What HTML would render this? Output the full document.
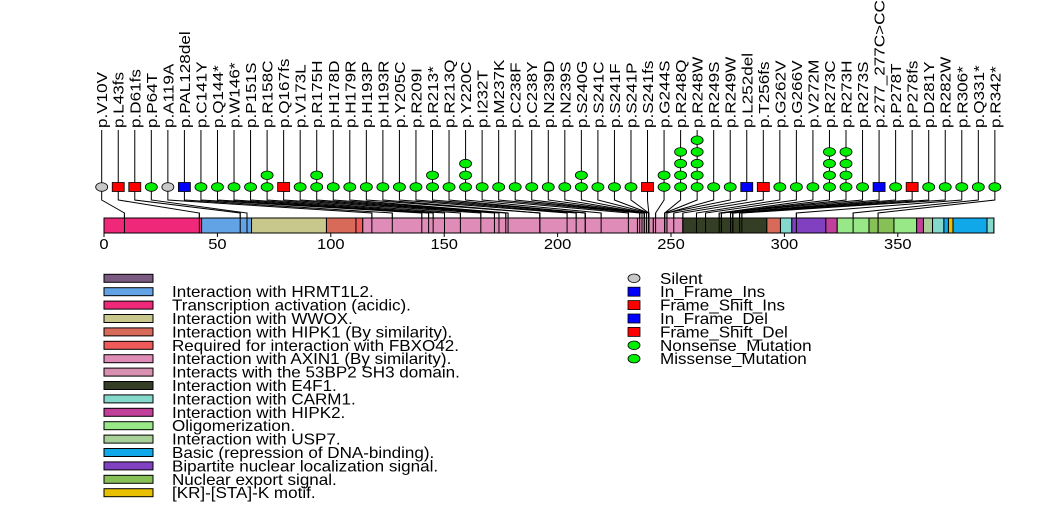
<!DOCTYPE html>
<html><head><meta charset="utf-8"><style>
html,body{margin:0;padding:0;background:#fff;}
svg{display:block;font-family:"Liberation Sans",sans-serif;}
</style></head><body>
<svg id="c" width="1047" height="524" viewBox="0 0 1047 524"></svg>
<script>
const labels=["V10V","L43fs","D61fs","P64T","A119A","PAL128del","C141Y","Q144*","W146*","P151S","R158C","Q167fs","V173L","R175H","H178D","H179R","H193P","H193R","Y205C","R209I","R213*","R213Q","Y220C","I232T","M237K","C238F","C238Y","N239D","N239S","S240G","S241C","S241F","S241P","S241fs","G244S","R248Q","R248W","R249S","R249W","L252del","T256fs","G262V","G266V","V272M","R273C","R273H","R273S","277_277C>CC","P278T","P278fs","D281Y","R282W","R306*","Q331*","R342*"];
const positions=[10,43,61,64,119,128,141,144,146,151,158,167,173,175,178,179,193,193,205,209,213,213,220,232,237,238,238,239,239,240,241,241,241,241,244,248,248,249,249,252,256,262,266,272,273,273,273,277,278,278,281,282,306,331,342];
const counts=[1,1,1,1,1,1,1,1,1,1,2,1,1,2,1,1,1,1,1,1,2,1,3,1,1,1,1,1,1,2,1,1,1,1,2,4,5,1,1,1,1,1,1,1,4,4,1,1,1,1,1,1,1,1,1];
const types=["S","FS","FS","M","S","IF","M","M","M","M","M","FS","M","M","M","M","M","M","M","M","M","M","M","M","M","M","M","M","M","M","M","M","M","FS","M","M","M","M","M","IF","FS","M","M","M","M","M","M","IF","M","FS","M","M","M","M","M"];
const domStart=[1,44,66,99,112,115,236,243,256,293,299,304,319,324,338,349,359,362,366,371,373,375,390];
const domEnd=[44,66,99,112,115,236,243,256,293,299,304,319,324,338,349,359,362,366,371,373,375,390,393];
const domColor=["#f0287a","#62a3e6","#c8c88c","#d86a5a","#f05a5a","#e08cb8","#d890b0","#e08cb8","#343e24","#d86a5a","#84d8cc","#8040c0","#c0409a","#98e888","#88c058","#98e888","#c0409a","#a8d098","#84d8cc","#10a8e8","#e8c000","#10a8e8","#84d8cc"];
const ticks=[0,50,100,150,200,250,300,350];
const legNames=["","Interaction with HRMT1L2.","Transcription activation (acidic).","Interaction with WWOX.","Interaction with HIPK1 (By similarity).","Required for interaction with FBXO42.","Interaction with AXIN1 (By similarity).","Interacts with the 53BP2 SH3 domain.","Interaction with E4F1.","Interaction with CARM1.","Interaction with HIPK2.","Oligomerization.","Interaction with USP7.","Basic (repression of DNA-binding).","Bipartite nuclear localization signal.","Nuclear export signal.","[KR]-[STA]-K motif."];
const legColors=["#7a5a80","#62a3e6","#f0287a","#c8c88c","#d86a5a","#f05a5a","#e08cb8","#d890b0","#343e24","#84d8cc","#c0409a","#98e888","#a8d098","#10a8e8","#8040c0","#88c058","#e8c000"];
const mutNames=["Silent","In_Frame_Ins","Frame_Shift_Ins","In_Frame_Del","Frame_Shift_Del","Nonsense_Mutation","Missense_Mutation"];
const mutShapes=["S","IF","FS","IF","FS","M","M"];

const NS="http://www.w3.org/2000/svg";
const svg=document.getElementById('c');
function mk(tag,attrs,parent){const e=document.createElementNS(NS,tag);for(const k in attrs)e.setAttribute(k,attrs[k]);(parent||svg).appendChild(e);return e;}
const xAA=p=>104+(p-1)*2.27;
const xTick=p=>104+p*2.268;
const xMark=i=>101.7+i*16.54;
const yStack=k=>187-k*11.7;
const fillOf={S:"#c8c8c8",M:"#00ee00",FS:"#ff0000",IF:"#0000ff"};

function marker(type,cx,cy,parent,name){
  let e;
  if(type==="S"||type==="M") e=mk('ellipse',{cx:cx,cy:cy,rx:6,ry:4.3,fill:fillOf[type],stroke:"#000","stroke-width":0.8},parent);
  else e=mk('rect',{x:cx-6,y:cy-4.5,width:12,height:9,fill:fillOf[type],stroke:"#000","stroke-width":0.8},parent);
  
  
}

const gl=mk('g',{});


labels.forEach((l,i)=>{
  const mx=xMark(i), px=xAA(positions[i]);
  const topY=yStack(counts[i]-1);
  const p=mk('polyline',{points:`${mx},130 ${mx},${topY} ${mx},200 ${px},213 ${px},233`,fill:"none",stroke:"#000","stroke-width":1},gl);
  
  
});

const bar=mk('rect',{x:104,y:218,width:xAA(393)-104,height:15,fill:"#7a5a80",stroke:"#000","stroke-width":1});


domStart.forEach((s,i)=>{
  const r=mk('rect',{x:xAA(s),y:218,width:xAA(domEnd[i])-xAA(s),height:15,fill:domColor[i],stroke:"#000","stroke-width":1});
  
  
});
positions.forEach((p,i)=>{
  const l=mk('line',{x1:xAA(p),y1:213,x2:xAA(p),y2:233,stroke:"#000","stroke-width":1});
  
  
});

ticks.forEach(t=>{
  const x=xTick(t);
  const tl=mk('line',{x1:x,y1:233,x2:x,y2:237,stroke:"#000"});
  
  
  const tx=mk('text',{x:0,y:0,"font-size":15,"text-anchor":"middle",fill:"#000",transform:`translate(${x},249) scale(1.1,1)`});
  tx.textContent=t;
  
  
});

labels.forEach((l,i)=>{
  const mx=xMark(i);
  for(let k=0;k<counts[i];k++) marker(types[i],mx,yStack(k),svg,'marker-'+l);
  const t=mk('text',{x:0,y:0,"font-size":14.5,fill:"#000",transform:`translate(${mx+5.5},128) rotate(-90) scale(1.18,1)`});
  t.textContent='p.'+l;
  
  
});

legNames.forEach((n,i)=>{
  const y=274.3+i*13.4;
  const r=mk('rect',{x:104,y:y,width:49,height:8,fill:legColors[i],stroke:"#000","stroke-width":1});
  
  
  if(n){
    const t=mk('text',{x:0,y:0,"font-size":15.5,fill:"#000",transform:`translate(172,${y+9.5}) scale(1.1,1)`});
    t.textContent=n;
    
    
  }
});
mutNames.forEach((n,i)=>{
  const y=278.3+i*13.4;
  marker(mutShapes[i],634,y,svg,'mutation-legend-icon');
  const t=mk('text',{x:0,y:0,"font-size":15.5,fill:"#000",transform:`translate(660,${y+5.5}) scale(1.1,1)`});
  t.textContent=n;
  
  
});
</script>
</body></html>
